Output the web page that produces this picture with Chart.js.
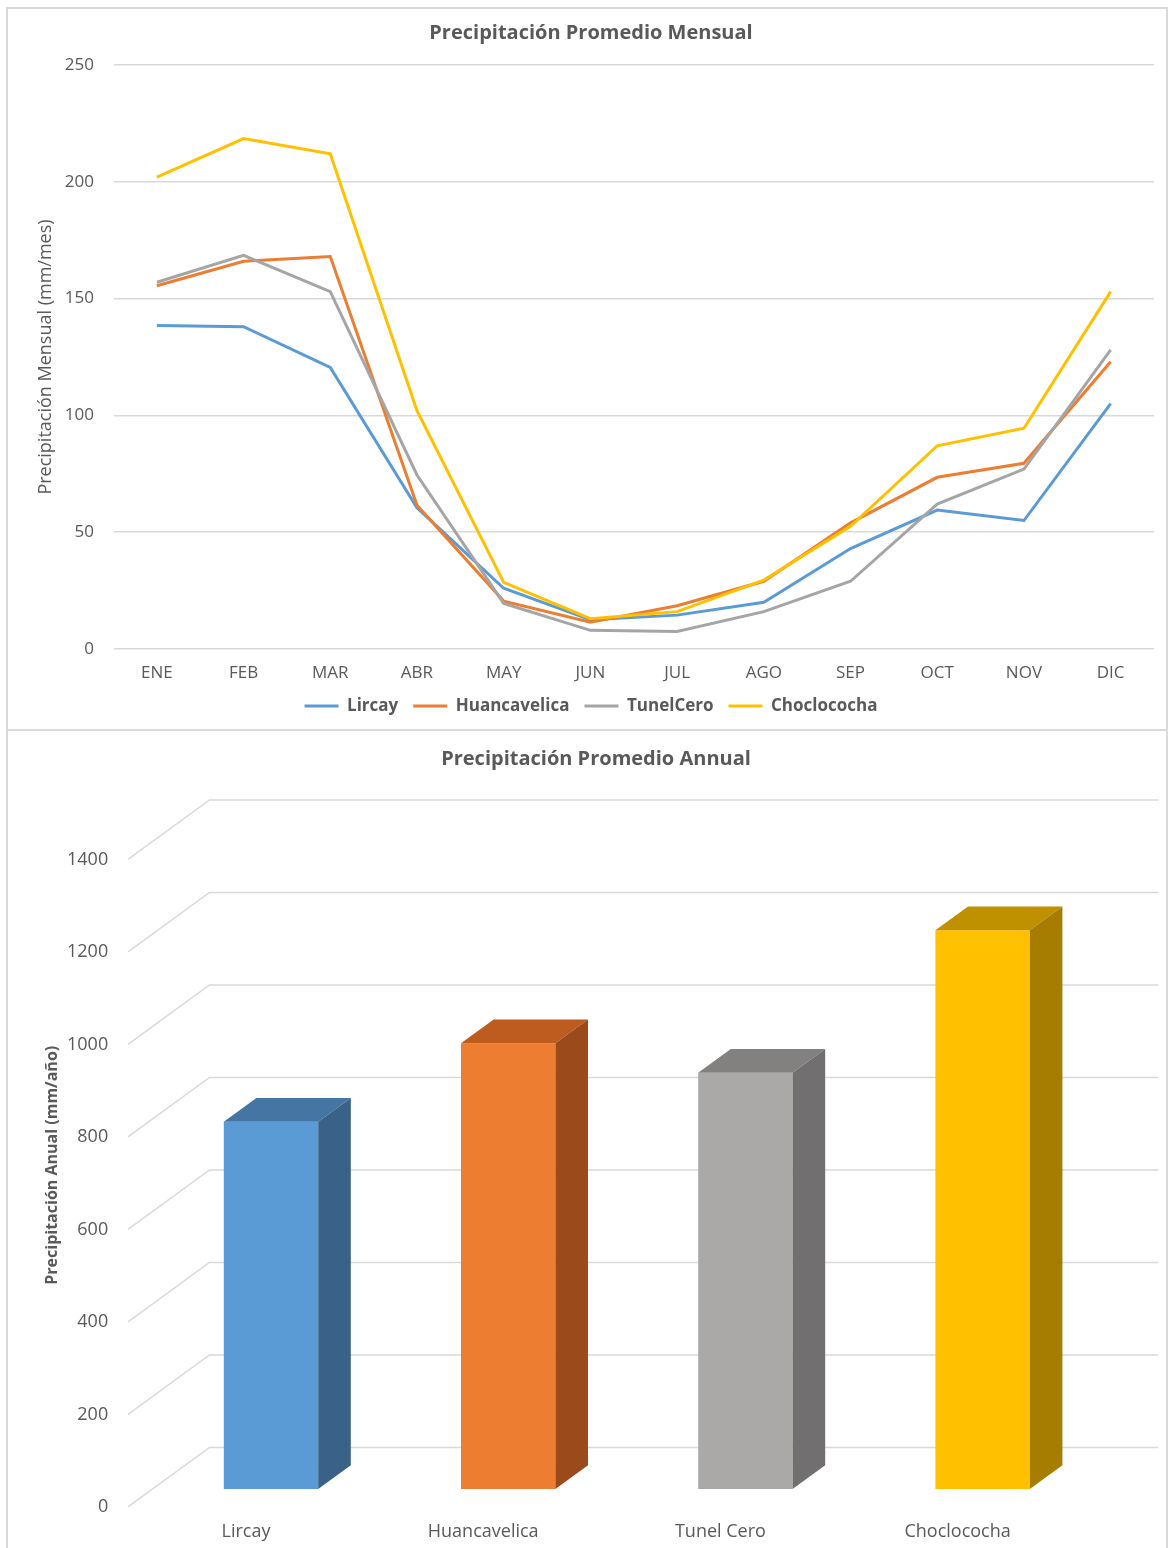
<!DOCTYPE html>
<html><head><meta charset="utf-8">
<script src="https://cdn.jsdelivr.net/npm/chart.js@4.4.1/dist/chart.umd.min.js"></script>
<style>
html,body{margin:0;padding:0;background:#fff;width:1170px;height:1548px;overflow:hidden;}
.panel{position:absolute;box-sizing:border-box;border:2px solid #dadada;}
canvas{position:absolute;left:0;}
</style></head><body>
<div class="panel" style="left:6px;top:7px;width:1162px;height:724px;"></div>
<div class="panel" style="left:6px;top:729px;width:1162px;height:840px;"></div>
<canvas id="c1" width="1170" height="730" style="top:0"></canvas>
<canvas id="c2" width="1170" height="818" style="top:730px"></canvas>
<script>
// ---- data ----
const months = ['ENE','FEB','MAR','ABR','MAY','JUN','JUL','AGO','SEP','OCT','NOV','DIC'];
const lircay       = [138.5, 138, 120.5, 60.5, 26, 12.5, 14.5, 20, 43, 59.5, 55, 105];
const huancavelica = [155.5, 166, 168, 61.5, 20.5, 11.5, 18.5, 29, 54, 73.5, 79.5, 123];
const tunelCero    = [157, 168.5, 153, 74.5, 19.5, 8, 7.5, 16, 29, 62, 77, 128];
const choclococha  = [202, 218.5, 212, 102, 28.5, 13, 16, 29.5, 52.5, 87, 94.5, 153];
const stations = ['Lircay','Huancavelica','Tunel Cero','Choclococha'];
const annual   = [794, 964, 900, 1208];

// ---- styles ----
const FONT = "'Open Sans', 'DejaVu Sans', sans-serif";
const TXT = '#595959';
const GRID = '#d9d9d9';
Chart.defaults.font.family = FONT;
Chart.defaults.color = TXT;
const lineColors = ['#5B9BD5','#ED7D31','#A5A5A5','#FFC000'];
const frontColors = ['#5B9BD5','#ED7D31','#ABA9A7','#FFC000'];
const topColors   = ['#4575A3','#BE5B1F','#838180','#BF9000'];
const sideColors  = ['#3A6289','#9A4A1B','#716F6F','#A67D00'];

new Chart(document.getElementById('c1'), {
  type: 'line',
  data: {
    labels: months,
    datasets: [
      {label:'Lircay', data: lircay, borderColor: lineColors[0], backgroundColor: lineColors[0], order: 4},
      {label:'Huancavelica', data: huancavelica, borderColor: lineColors[1], backgroundColor: lineColors[1], order: 3},
      {label:'TunelCero', data: tunelCero, borderColor: lineColors[2], backgroundColor: lineColors[2], order: 2},
      {label:'Choclococha', data: choclococha, borderColor: lineColors[3], backgroundColor: lineColors[3], order: 1}
    ]
  },
  options: {
    responsive: false, animation: false, devicePixelRatio: 1,
    layout: {padding: {left: 28, right: 16, top: 0, bottom: 5.5}},
    elements: {line: {borderWidth: 3, tension: 0}, point: {radius: 0, hoverRadius: 0}},
    plugins: {
      title: {display: true, text: 'Precipitación Promedio Mensual', font: {size: 20, weight: 'bold'}, color: TXT, padding: {top: 21, bottom: 20}},
      legend: {position: 'bottom', labels: {font: {size: 17, weight: 'bold'}, color: TXT, boxWidth: 34, boxHeight: 3, padding: 15,
        generateLabels: (chart) => chart.data.datasets.map((d, i) => ({text: d.label, fillStyle: d.borderColor, strokeStyle: d.borderColor, lineWidth: 0, hidden: false, datasetIndex: i, fontColor: TXT}))}},
      tooltip: {enabled: false}
    },
    scales: {
      x: {offset: true, grid: {display: false, drawTicks: false}, border: {display: false},
          ticks: {padding: 13.8, font: {size: 17}, color: TXT}, afterFit: (s) => { s.height = 33.5; }},
      y: {min: 0, max: 250, ticks: {stepSize: 50, padding: 19.5, font: {size: 17}, color: TXT},
          grid: {color: GRID, lineWidth: 1.5, drawTicks: false}, border: {display: false},
          title: {display: true, text: 'Precipitación Mensual (mm/mes)', font: {size: 18}, color: TXT, padding: {top: 7, bottom: 0}},
          afterFit: (s) => { s.width = 85.5; }}
    }
  }
});

// 3D effect for bar chart
const D = {fx: 24.4, fy: 17.8, bx: 57.1, by: 41.5, dx: 32.6, dy: 23.7};
const bar3d = {
  id: 'bar3d',
  beforeDatasetsDraw(chart) {
    const ctx = chart.ctx, ys = chart.scales.y, a = chart.chartArea;
    ctx.save();
    ctx.strokeStyle = GRID; ctx.lineWidth = 1.5;
    ys.ticks.forEach(t => {
      const p = ys.getPixelForValue(t.value);
      ctx.beginPath();
      ctx.moveTo(a.left - D.fx, p + D.fy);
      ctx.lineTo(a.left + D.bx, p - D.by);
      ctx.lineTo(a.right + D.bx, p - D.by);
      ctx.stroke();
    });
    ctx.restore();
  },
  afterDatasetsDraw(chart) {
    const ctx = chart.ctx;
    const meta = chart.getDatasetMeta(0);
    ctx.save();
    meta.data.forEach((bar, i) => {
      const {x, y, base, width} = bar.getProps(['x','y','base','width'], true);
      const L = x - width / 2, R = x + width / 2;
      ctx.fillStyle = topColors[i];
      ctx.beginPath(); ctx.moveTo(L, y); ctx.lineTo(L + D.dx, y - D.dy); ctx.lineTo(R + D.dx, y - D.dy); ctx.lineTo(R, y); ctx.closePath(); ctx.fill();
      ctx.fillStyle = sideColors[i];
      ctx.beginPath(); ctx.moveTo(R, y); ctx.lineTo(R + D.dx, y - D.dy); ctx.lineTo(R + D.dx, base - D.dy); ctx.lineTo(R, base); ctx.closePath(); ctx.fill();
    });
    ctx.restore();
  }
};

new Chart(document.getElementById('c2'), {
  type: 'bar',
  data: {labels: stations, datasets: [{label: 'Precipitación Anual', data: annual, backgroundColor: frontColors, borderWidth: 0, barPercentage: 1, categoryPercentage: 0.398}]},
  options: {
    responsive: false, animation: false, devicePixelRatio: 1,
    layout: {padding: {left: 90.8, right: 68.8, top: 0, bottom: 0}},
    plugins: {
      legend: {display: false}, tooltip: {enabled: false},
      title: {display: true, text: 'Precipitación Promedio Annual', font: {size: 20, weight: 'bold'}, color: TXT, padding: {top: 17, bottom: 70.5}}
    },
    scales: {
      x: {grid: {display: false, drawTicks: false}, border: {display: false},
          ticks: {padding: 31.7, labelOffset: -25, font: {size: 18}, color: TXT}, afterFit: (s) => { s.height = 59; }},
      y: {min: 0, max: 1400, ticks: {stepSize: 200, mirror: true, crossAlign: 'far', padding: -85.4, labelOffset: 18, font: {size: 18}, color: TXT, callback: (v) => String(v)},
          grid: {display: false, drawTicks: false}, border: {display: false},
          title: {display: true, text: 'Precipitación Anual (mm/año)', font: {size: 16, weight: 'bold'}, color: TXT, padding: {top: -48.4, bottom: 0}},
          afterFit: (s) => { s.width = 61.6; }}
    }
  },
  plugins: [bar3d]
});
</script>
</body></html>
